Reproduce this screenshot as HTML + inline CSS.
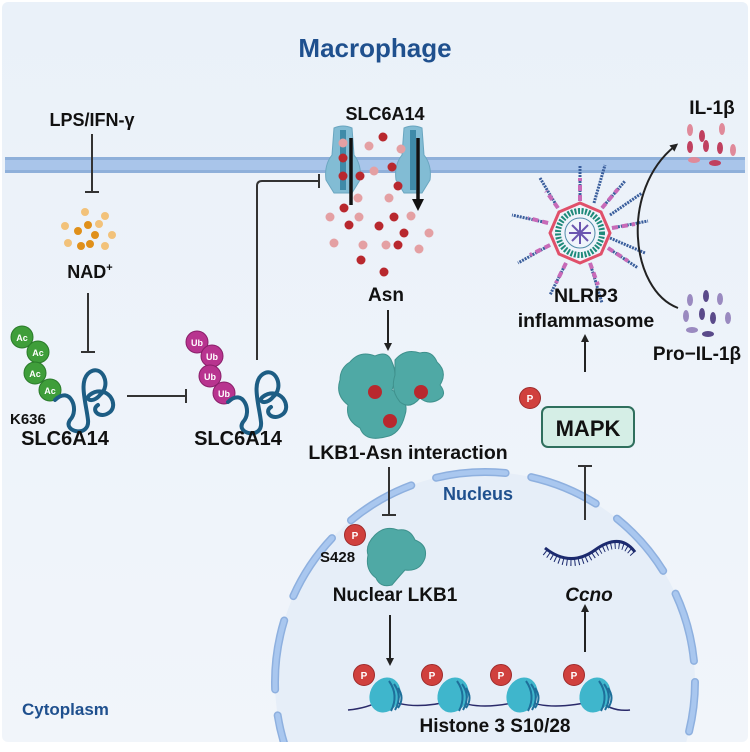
<!DOCTYPE html>
<html><head><meta charset="utf-8"><style>
body{margin:0;background:#fff}
svg{display:block}
text{font-family:"Liberation Sans",sans-serif;font-weight:bold}
</style></head><body>
<svg width="750" height="752" viewBox="0 0 750 752" xmlns="http://www.w3.org/2000/svg">
<defs>
<linearGradient id="bg" x1="0" y1="0" x2="0" y2="1"><stop offset="0" stop-color="#eaf1f9"/><stop offset="1" stop-color="#f1f5fa"/></linearGradient>
<clipPath id="cl"><rect x="2" y="2" width="746" height="740" rx="6"/></clipPath>
<marker id="ar" markerWidth="8" markerHeight="8" refX="4" refY="4" orient="auto" markerUnits="userSpaceOnUse"><path d="M0,0 L8,4 L0,8 z" fill="#222"/></marker>
<marker id="arb" markerWidth="12" markerHeight="12" refX="6" refY="6" orient="auto" markerUnits="userSpaceOnUse"><path d="M0,0 L12,6 L0,12 z" fill="#111"/></marker>
<g id="P"><circle r="10.5" fill="#d0403d" stroke="#9e2a2a" stroke-width="1"/><text x="0" y="4" font-size="10" fill="#fff" text-anchor="middle">P</text></g>
<g id="nuc"><ellipse cx="0" cy="0" rx="15" ry="18" fill="#3fb6cc" transform="rotate(25)"/><path d="M4,-14 q10,14 2,30 M9,-11 q9,12 1,26 M13,-7 q7,10 0,20" stroke="#1e6f9a" stroke-width="2" fill="none"/></g>
</defs>
<rect width="750" height="752" fill="#fff"/>
<rect x="2" y="2" width="746" height="740" rx="6" fill="url(#bg)"/>
<rect x="5" y="157" width="740" height="16" fill="#a9c5ea"/>
<rect x="5" y="157" width="740" height="3" fill="#8fb0da"/>
<rect x="5" y="170" width="740" height="3" fill="#8fb0da"/>
<text x="375" y="57" font-size="26" fill="#1f508e" text-anchor="middle">Macrophage</text>
<g clip-path="url(#cl)">
<circle cx="485" cy="682" r="210" fill="#e6eef8"/>
<circle cx="485" cy="682" r="210" fill="none" stroke="#8eb0df" stroke-width="8" stroke-linecap="round" stroke-dasharray="70 26" stroke-dashoffset="20"/>
<circle cx="485" cy="682" r="210" fill="none" stroke="#a9c7ef" stroke-width="5" stroke-linecap="round" stroke-dasharray="70 26" stroke-dashoffset="20"/>
</g>
<text x="478" y="500" font-size="18" fill="#1f508e" text-anchor="middle">Nucleus</text>
<text x="22" y="715" font-size="17" fill="#1f508e">Cytoplasm</text>
<text x="92" y="126" font-size="18" fill="#111" text-anchor="middle">LPS/IFN-γ</text>
<path d="M92,134 V192 M85,192 H99" stroke="#333" stroke-width="2"/>
<g fill="#f2c27a"><circle cx="85" cy="212" r="4"/><circle cx="105" cy="216" r="4"/><circle cx="65" cy="226" r="4"/><circle cx="99" cy="224" r="4"/><circle cx="112" cy="235" r="4"/><circle cx="68" cy="243" r="4"/><circle cx="105" cy="246" r="4"/></g>
<g fill="#e0901a"><circle cx="88" cy="225" r="4"/><circle cx="78" cy="231" r="4"/><circle cx="95" cy="235" r="4"/><circle cx="81" cy="246" r="4"/><circle cx="90" cy="244" r="4"/></g>
<text x="90" y="278" font-size="18" fill="#111" text-anchor="middle">NAD<tspan font-size="11" dy="-7">+</tspan></text>
<path d="M88,293 V352 M81,352 H95" stroke="#333" stroke-width="2"/>
<g stroke="#2a7a2a" fill="#3f9e3a"><circle cx="22" cy="337" r="11"/><circle cx="38" cy="352" r="11"/><circle cx="35" cy="373" r="11"/><circle cx="50" cy="390" r="11"/></g>
<g font-size="9" fill="#fff" text-anchor="middle"><text x="22" y="341">Ac</text><text x="38" y="356">Ac</text><text x="35" y="377">Ac</text><text x="50" y="394">Ac</text></g>
<text x="10" y="424" font-size="15" fill="#111">K636</text>
<path d="M55,400 C70,385 80,410 70,420 C62,432 90,438 88,420 C86,402 78,380 90,372 C102,364 112,385 100,395 C92,405 80,398 95,392 C110,388 118,405 110,412 C100,420 90,410 98,405" stroke="#1d5d84" stroke-width="4" fill="none" stroke-linecap="round"/>
<text x="65" y="445" font-size="20" fill="#111" text-anchor="middle">SLC6A14</text>
<path d="M127,396 H186 M186,389 V403" stroke="#333" stroke-width="2"/>
<g stroke="#8a1f6a" fill="#b8348f"><circle cx="197" cy="342" r="11"/><circle cx="212" cy="356" r="11"/><circle cx="210" cy="376" r="11"/><circle cx="224" cy="393" r="11"/></g>
<g font-size="9" fill="#fff" text-anchor="middle"><text x="197" y="346">Ub</text><text x="212" y="360">Ub</text><text x="210" y="380">Ub</text><text x="224" y="397">Ub</text></g>
<path d="M228,402 C243,387 253,412 243,422 C235,434 263,440 261,422 C259,404 251,382 263,374 C275,366 285,387 273,397 C265,407 253,400 268,394 C283,390 291,407 283,414 C273,422 263,412 271,407" stroke="#1d5d84" stroke-width="4" fill="none" stroke-linecap="round"/>
<text x="238" y="445" font-size="20" fill="#111" text-anchor="middle">SLC6A14</text>
<path d="M257,360 V186 Q257,181 262,181 H319 M319,174 V188" stroke="#333" stroke-width="2" fill="none"/>
<text x="385" y="120" font-size="18" fill="#111" text-anchor="middle">SLC6A14</text>
<g fill="#82bcd4" stroke="#6aa6c0" stroke-width="1"><path d="M334,128 Q343,124 352,128 L354,155 Q362,165 360,180 L352,193 H334 L326,180 Q324,165 332,155 Z"/><path d="M404,128 Q413,124 422,128 L424,155 Q432,165 430,180 L422,193 H404 L396,180 Q394,165 402,155 Z"/></g>
<path d="M343,130 V190 M413,130 V190" stroke="#3f8aa8" stroke-width="6"/>
<path d="M351,138 V205 M418,138 V205" stroke="#111" stroke-width="3.5" marker-end="url(#arb)"/>
<g fill="#e4a0a3"><circle cx="343" cy="143" r="4.5"/><circle cx="369" cy="146" r="4.5"/><circle cx="401" cy="149" r="4.5"/><circle cx="374" cy="171" r="4.5"/><circle cx="389" cy="198" r="4.5"/><circle cx="330" cy="217" r="4.5"/><circle cx="359" cy="217" r="4.5"/><circle cx="411" cy="216" r="4.5"/><circle cx="334" cy="243" r="4.5"/><circle cx="363" cy="245" r="4.5"/><circle cx="386" cy="245" r="4.5"/><circle cx="419" cy="249" r="4.5"/><circle cx="429" cy="233" r="4.5"/><circle cx="358" cy="198" r="4.5"/></g>
<g fill="#b8282e"><circle cx="383" cy="137" r="4.5"/><circle cx="343" cy="158" r="4.5"/><circle cx="392" cy="167" r="4.5"/><circle cx="343" cy="176" r="4.5"/><circle cx="398" cy="186" r="4.5"/><circle cx="344" cy="208" r="4.5"/><circle cx="394" cy="217" r="4.5"/><circle cx="349" cy="225" r="4.5"/><circle cx="379" cy="226" r="4.5"/><circle cx="404" cy="233" r="4.5"/><circle cx="398" cy="245" r="4.5"/><circle cx="361" cy="260" r="4.5"/><circle cx="384" cy="272" r="4.5"/><circle cx="360" cy="176" r="4.5"/></g>
<text x="386" y="301" font-size="19" fill="#111" text-anchor="middle">Asn</text>
<path d="M388,310 V347" stroke="#222" stroke-width="2" marker-end="url(#ar)"/>
<g fill="#4fa9a5" stroke="#3f918d" stroke-width="1">
<path d="M350,362 Q360,350 375,356 Q388,350 392,362 Q398,375 392,390 Q410,400 405,415 Q400,435 385,437 Q365,442 360,428 Q345,420 348,405 Q335,395 340,380 Q340,368 350,362 Z"/>
<path d="M395,360 Q405,348 420,353 Q432,350 437,362 Q448,372 440,385 Q448,395 438,400 Q428,405 420,398 Q410,410 400,402 Q390,390 395,375 Z"/>
</g>
<g fill="#b8282e"><circle cx="375" cy="392" r="7"/><circle cx="421" cy="392" r="7"/><circle cx="390" cy="421" r="7"/></g>
<text x="408" y="459" font-size="19.5" fill="#111" text-anchor="middle">LKB1-Asn interaction</text>
<path d="M389,467 V515 M382,515 H396" stroke="#333" stroke-width="2"/>
<path d="M375,535 Q385,525 398,530 Q410,528 415,540 Q428,545 425,558 Q420,572 405,570 Q396,580 392,585 Q380,588 376,578 Q365,570 368,555 Q365,545 375,535 Z" fill="#4fa9a5" stroke="#3f918d"/>
<use href="#P" x="355" y="535"/>
<text x="320" y="562" font-size="15" fill="#111">S428</text>
<text x="395" y="601" font-size="19" fill="#111" text-anchor="middle">Nuclear LKB1</text>
<path d="M390,615 V662" stroke="#222" stroke-width="2" marker-end="url(#ar)"/>
<path d="M348,710 Q370,708 385,698 Q410,712 455,700 Q480,712 525,700 Q550,712 598,700 Q612,712 630,710" stroke="#2a2a6a" stroke-width="1.5" fill="none"/>
<use href="#nuc" x="385" y="695"/><use href="#nuc" x="453" y="695"/><use href="#nuc" x="522" y="695"/><use href="#nuc" x="595" y="695"/>
<use href="#P" x="364" y="675"/><use href="#P" x="432" y="675"/><use href="#P" x="501" y="675"/><use href="#P" x="574" y="675"/>
<text x="495" y="732" font-size="19" fill="#111" text-anchor="middle">Histone 3 S10/28</text>
<path d="M585,652 V608" stroke="#222" stroke-width="2" marker-end="url(#ar)"/>
<text x="589" y="601" font-size="19" fill="#111" font-style="italic" text-anchor="middle">Ccno</text>
<path d="M545,548 Q570,568 595,550 Q620,532 635,552" stroke="#1c2a6e" stroke-width="3" fill="none"/>
<path d="M545,548 Q570,568 595,550 Q620,532 635,552" stroke="#1c2a6e" stroke-width="7" fill="none" stroke-dasharray="1 3" transform="translate(0,4)"/>
<path d="M585,520 V466 M578,466 H592" stroke="#333" stroke-width="2"/>
<rect x="542" y="407" width="92" height="40" rx="6" fill="#d5eee6" stroke="#2f6f5d" stroke-width="2"/>
<text x="588" y="436" font-size="22" fill="#111" text-anchor="middle">MAPK</text>
<use href="#P" x="530" y="398"/>
<path d="M585,372 V338" stroke="#222" stroke-width="2" marker-end="url(#ar)"/>
<g transform="translate(580,233)">
<g stroke="#3a5e9c" stroke-width="3" stroke-dasharray="2 1">
<path d="M0,-32 V-68 M22,-25 L45,-52 M32,-5 L68,-12 M28,15 L58,35 M10,30 L22,70 M-14,30 L-30,62 M-30,12 L-62,30 M-32,-10 L-68,-18 M-22,-25 L-40,-55 M14,-30 L25,-68 M30,-18 L62,-40 M30,5 L65,20"/>
</g>
<g stroke="#c86ab8" stroke-width="4" stroke-dasharray="6 4"><path d="M0,-32 V-55 M22,-25 L38,-44 M32,-5 L55,-9 M28,15 L48,28 M10,30 L18,52 M-14,30 L-24,50 M-30,12 L-50,22 M-32,-10 L-52,-15 M-22,-25 L-34,-42"/></g>
<polygon points="0,-30 21,-21 30,0 21,21 0,30 -21,21 -30,0 -21,-21" fill="#f0f4fb" stroke="#e0506a" stroke-width="3"/>
<circle r="22" fill="none" stroke="#1f8a7a" stroke-width="6" stroke-dasharray="2 1.5"/>
<circle r="15" fill="#f0f4fb" stroke="#4f8aa8" stroke-width="1"/>
<g stroke="#6a55b0" stroke-width="2"><path d="M-11,0 H11 M0,-11 V11 M-8,-8 L8,8 M-8,8 L8,-8"/></g>
</g>
<text x="586" y="302" font-size="19.5" fill="#111" text-anchor="middle">NLRP3</text>
<text x="586" y="327" font-size="19.5" fill="#111" text-anchor="middle">inflammasome</text>
<text x="712" y="114" font-size="19" fill="#111" text-anchor="middle">IL-1β</text>
<g fill="#c0405f"><ellipse cx="702" cy="136" rx="3" ry="6"/><ellipse cx="722" cy="129" rx="3" ry="6" fill="#e08a9a"/><ellipse cx="690" cy="147" rx="3" ry="6"/><ellipse cx="706" cy="146" rx="3" ry="6"/><ellipse cx="720" cy="148" rx="3" ry="6"/><ellipse cx="733" cy="150" rx="3" ry="6" fill="#e08a9a"/><ellipse cx="690" cy="130" rx="3" ry="6" fill="#e08a9a"/><ellipse cx="694" cy="160" rx="6" ry="3" fill="#e08a9a"/><ellipse cx="715" cy="163" rx="6" ry="3"/></g>
<text x="697" y="360" font-size="19" fill="#111" text-anchor="middle">Pro−IL-1β</text>
<g fill="#5a4a8a"><ellipse cx="690" cy="300" rx="3" ry="6" fill="#9a8ac0"/><ellipse cx="706" cy="296" rx="3" ry="6"/><ellipse cx="720" cy="299" rx="3" ry="6" fill="#9a8ac0"/><ellipse cx="686" cy="316" rx="3" ry="6" fill="#9a8ac0"/><ellipse cx="702" cy="314" rx="3" ry="6"/><ellipse cx="713" cy="318" rx="3" ry="6"/><ellipse cx="728" cy="318" rx="3" ry="6" fill="#9a8ac0"/><ellipse cx="692" cy="330" rx="6" ry="3" fill="#9a8ac0"/><ellipse cx="708" cy="334" rx="6" ry="3"/></g>
<path d="M678,308 C630,290 620,190 675,146" stroke="#222" stroke-width="2" fill="none" marker-end="url(#ar)"/>
</svg>
</body></html>
